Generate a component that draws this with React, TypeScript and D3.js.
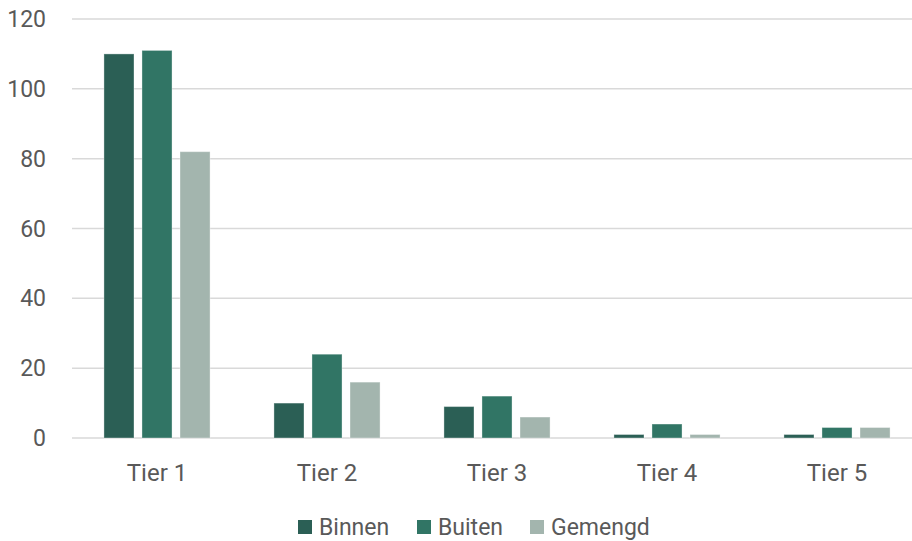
import React, { useEffect, useRef } from 'react';
import * as d3 from 'd3';

const categories = ['Tier 1', 'Tier 2', 'Tier 3', 'Tier 4', 'Tier 5'];
const seriesNames = ['Binnen', 'Buiten', 'Gemengd'];
const binnen = [110, 10, 9, 1, 1];
const buiten = [111, 24, 12, 4, 3];
const gemengd = [82, 16, 6, 1, 3];
const yTicks = [0, 20, 40, 60, 80, 100, 120];
const colors = ['#2b5f55', '#317565', '#a3b5ae'];

const App = () => {
  const ref = useRef<SVGSVGElement | null>(null);

  useEffect(() => {
    const svg = d3.select(ref.current);
    svg.selectAll('*').remove();
    const width = 912;
    const height = 541;
    const margin = { top: 19, right: -10, bottom: 103, left: 72 };
    const font = 'Roboto, sans-serif';
    const textColor = '#595959';

    const values = [binnen, buiten, gemengd];

    const x = d3
      .scaleBand()
      .domain(categories)
      .range([margin.left, width - margin.right]);
    const inner = d3
      .scaleBand()
      .domain(seriesNames)
      .range([0, x.bandwidth()])
      .paddingInner(0.21)
      .paddingOuter(0.84);
    const y = d3
      .scaleLinear()
      .domain([0, 120])
      .range([height - margin.bottom, margin.top]);

    // gridlines
    svg
      .append('g')
      .selectAll('line')
      .data(yTicks)
      .enter()
      .append('line')
      .attr('x1', margin.left)
      .attr('x2', width - margin.right)
      .attr('y1', (d) => y(d))
      .attr('y2', (d) => y(d))
      .attr('stroke', '#d9d9d9')
      .attr('stroke-width', 1.5);

    // y labels
    svg
      .append('g')
      .selectAll('text')
      .data(yTicks)
      .enter()
      .append('text')
      .attr('x', 46)
      .attr('y', (d) => y(d))
      .attr('dy', '0.35em')
      .attr('text-anchor', 'end')
      .attr('font-family', font)
      .attr('font-size', 23)
      .attr('fill', textColor)
      .text((d) => d);

    // bars
    seriesNames.forEach((name, si) => {
      svg
        .append('g')
        .selectAll('rect')
        .data(values[si])
        .enter()
        .append('rect')
        .attr('x', (d, i) => (x(categories[i]) as number) + (inner(name) as number))
        .attr('y', (d) => y(d))
        .attr('width', inner.bandwidth())
        .attr('height', (d) => y(0) - y(d))
        .attr('fill', colors[si])
        .attr('stroke', '#ffffff')
        .attr('stroke-opacity', 0.35)
        .attr('stroke-width', 1);
    });

    // x labels
    svg
      .append('g')
      .selectAll('text')
      .data(categories)
      .enter()
      .append('text')
      .attr('x', (d) => (x(d) as number) + x.bandwidth() / 2)
      .attr('y', 481)
      .attr('text-anchor', 'middle')
      .attr('font-family', font)
      .attr('font-size', 24)
      .attr('fill', textColor)
      .text((d) => d);

    // legend
    const legendX = [298, 417, 530];
    const legend = svg
      .append('g')
      .selectAll('g')
      .data(seriesNames)
      .enter()
      .append('g')
      .attr('transform', (d, i) => `translate(${legendX[i]}, 527)`);
    legend
      .append('rect')
      .attr('x', 0)
      .attr('y', -7)
      .attr('width', 14)
      .attr('height', 14)
      .attr('fill', (d, i) => colors[i]);
    legend
      .append('text')
      .attr('x', 21)
      .attr('y', 0)
      .attr('dy', '0.35em')
      .attr('font-family', font)
      .attr('font-size', 23)
      .attr('fill', textColor)
      .text((d) => d);
  }, []);

  return (
    <svg
      ref={ref}
      width={912}
      height={541}
      style={{ position: 'absolute', left: 0, top: 0, background: '#fff' }}
    />
  );
};

export default App;
